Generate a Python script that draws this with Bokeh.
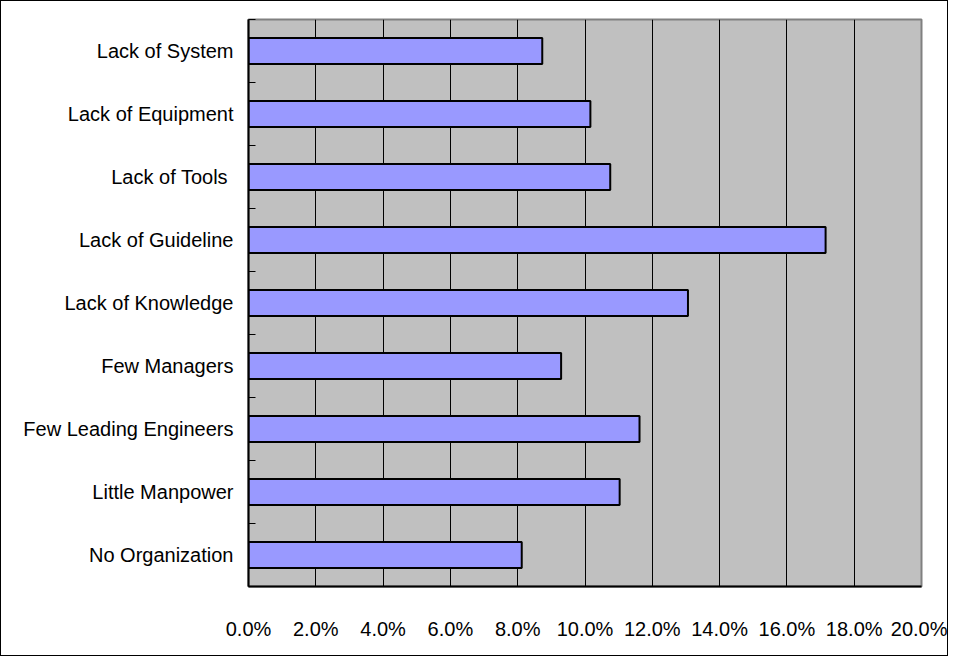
import numpy as np
from bokeh.plotting import figure
from bokeh.models import Range1d, FixedTicker, PrintfTickFormatter, ColumnDataSource
from bokeh.embed import file_html
from bokeh.resources import INLINE

# Data (top to bottom as in the chart)
categories = ["Lack of System", "Lack of Equipment", "Lack of Tools ", "Lack of Guideline",
              "Lack of Knowledge", "Few Managers", "Few Leading Engineers",
              "Little Manpower", "No Organization"]
values = [8.73, 10.16, 10.75, 17.15, 13.06, 9.29, 11.62, 11.03, 8.12]  # percent
x_ticks = [0, 2, 4, 6, 8, 10, 12, 14, 16, 18, 20]

n = len(categories)
ypos = [n - 0.5 - i for i in range(n)]

src = ColumnDataSource(dict(y=ypos, v=values, cat=categories))

FONT = "Liberation Sans"

p = figure(width=948, height=656, output_backend="svg", toolbar_location=None,
           x_range=Range1d(0, 20), y_range=Range1d(0, n),
           min_border_left=247, min_border_right=28, min_border_top=18, min_border_bottom=71)
p.styles = {"border": "1px solid black"}

p.background_fill_color = "#C0C0C0"
p.border_fill_color = "white"
p.outline_line_color = "#808080"
p.outline_line_width = 2

p.hbar(y="y", right="v", left=0, height=0.41, source=src,
       fill_color="#9999FF", line_color="black", line_width=2)

# x axis
p.xaxis.ticker = FixedTicker(ticks=x_ticks)
p.xaxis.formatter = PrintfTickFormatter(format="%.1f%%")
p.xaxis.major_tick_line_color = None
p.xaxis.major_tick_out = 0
p.xaxis.major_tick_in = 0
p.xaxis.minor_tick_line_color = None
p.xaxis.axis_line_color = "black"
p.xaxis.axis_line_width = 2
p.xaxis.major_label_standoff = 31
p.xaxis.major_label_text_font = FONT
p.xaxis.major_label_text_font_size = "20px"
p.xaxis.major_label_text_color = "black"

# y axis
p.yaxis.ticker = FixedTicker(ticks=ypos, minor_ticks=list(range(0, n + 1)))
p.yaxis.major_label_overrides = {y: c for y, c in zip(ypos, categories)}
p.yaxis.major_tick_line_color = None
p.yaxis.major_tick_out = 0
p.yaxis.major_tick_in = 0
p.yaxis.minor_tick_line_color = "black"
p.yaxis.minor_tick_in = 7
p.yaxis.minor_tick_out = 0
p.yaxis.axis_line_color = "black"
p.yaxis.axis_line_width = 2
p.yaxis.major_label_standoff = 15
p.yaxis.major_label_text_font = FONT
p.yaxis.major_label_text_font_size = "20px"
p.yaxis.major_label_text_color = "black"

# grid
p.xgrid.ticker = FixedTicker(ticks=x_ticks)
p.xgrid.grid_line_color = "black"
p.xgrid.grid_line_width = 1
p.ygrid.grid_line_color = None

open("out.html", "w").write(file_html(p, INLINE))
